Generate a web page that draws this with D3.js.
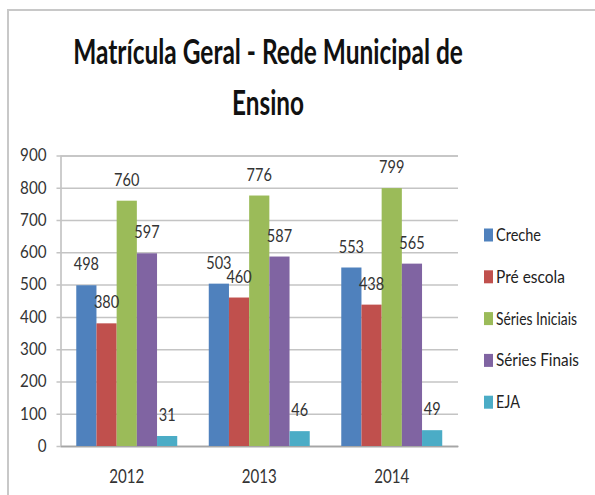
<!DOCTYPE html>
<html>
<head>
<meta charset="utf-8">
<script src="https://cdn.jsdelivr.net/npm/d3@7/dist/d3.min.js"></script>
<style>
html,body{margin:0;padding:0;background:#fff;}
svg{display:block;}
text{font-family:Lato,"Open Sans","DejaVu Sans",sans-serif;}
</style>
</head>
<body>
<svg id="chart" width="595" height="495"></svg>
<script>
const years = ["2012", "2013", "2014"];
const seriesNames = ["Creche", "Pré escola", "Séries Iniciais", "Séries Finais", "EJA"];
const creche = [498, 503, 553];
const preEscola = [380, 460, 438];
const seriesIniciais = [760, 776, 799];
const seriesFinais = [597, 587, 565];
const eja = [31, 46, 49];
const yTicks = [0, 100, 200, 300, 400, 500, 600, 700, 800, 900];
const colors = ["#4F81BD", "#C0504D", "#9BBB59", "#8064A2", "#4BACC6"];
const titleLines = ["Matrícula Geral - Rede Municipal de", "Ensino"];

const values = [creche, preEscola, seriesIniciais, seriesFinais, eja];
const data = years.map((yr, i) => ({year: yr, vals: seriesNames.map((s, j) => ({name: s, value: values[j][i], idx: j}))}));

const svg = d3.select("#chart");

// outer frame
svg.append("rect").attr("x", 8).attr("y", 10).attr("width", 600).attr("height", 500)
  .attr("fill", "#fff").attr("stroke", "#c8c8c8").attr("stroke-width", 2);

// title (horizontally condensed via scale)
const titleW = [390, 72];
titleLines.forEach((line, i) => {
  const g = svg.append("g").attr("class", "title");
  const t = g.append("text").attr("x", 0).attr("y", 0)
    .attr("text-anchor", "middle")
    .attr("font-size", 35).attr("font-weight", "bold").attr("fill", "#111")
    .text(line);
  const w = t.node().getComputedTextLength();
  g.attr("transform", `translate(268,${64 + i * 51}) scale(${titleW[i] / w},1)`);
});

const plotL = 60.5, plotR = 458, plotT = 155.5, plotB = 446;
const x = d3.scaleBand().domain(years).range([plotL, plotR]).paddingInner(0.238).paddingOuter(0.119);
const xs = d3.scaleBand().domain(seriesNames).range([0, x.bandwidth()]);
const y = d3.scaleLinear().domain([0, 900]).range([plotB, plotT]);

// gridlines + y axis
const yAxis = d3.axisLeft(y).tickValues(yTicks).tickSize(-(plotR - plotL)).tickPadding(14).tickFormat(d3.format("d"));
const gy = svg.append("g").attr("transform", `translate(${plotL},0)`).call(yAxis);
gy.select(".domain").attr("stroke", "#bdbdbd").attr("stroke-width", 1.5);
gy.selectAll(".tick line").attr("stroke", "#c4c4c4").attr("stroke-width", 1.5).attr("x1", -4);
gy.selectAll(".tick text").attr("font-size", 16.5).attr("fill", "#333")
  .attr("font-family", "Lato,sans-serif")
  .each(function(){ const w = this.getComputedTextLength(); d3.select(this).attr("textLength", w * 0.92).attr("lengthAdjust", "spacingAndGlyphs"); });

// x axis
const xAxis = d3.axisBottom(x).tickSize(0).tickPadding(24);
const gx = svg.append("g").attr("transform", `translate(0,${plotB})`).call(xAxis);
gx.select(".domain").attr("stroke", "#a6a6a6").attr("stroke-width", 1.5);
gx.selectAll(".tick text").attr("font-size", 19).attr("fill", "#333")
  .attr("font-family", "Lato,sans-serif")
  .attr("textLength", 35).attr("lengthAdjust", "spacingAndGlyphs");

// bars
const groups = svg.selectAll(".grp").data(data).enter().append("g")
  .attr("transform", d => `translate(${x(d.year)},0)`);
groups.selectAll("rect").data(d => d.vals).enter().append("rect")
  .attr("x", d => xs(d.name)).attr("width", xs.bandwidth())
  .attr("y", d => y(d.value)).attr("height", d => plotB - y(d.value))
  .attr("fill", d => colors[d.idx]);
groups.selectAll(".lbl").data(d => d.vals).enter().append("text")
  .attr("class", "lbl")
  .attr("x", d => xs(d.name) + xs.bandwidth() / 2)
  .attr("y", d => y(d.value) - 15)
  .attr("text-anchor", "middle").attr("font-size", 16.5).attr("fill", "#333")
  .text(d => d.value)
  .each(function(){ const w = this.getComputedTextLength(); d3.select(this).attr("textLength", w * 0.88).attr("lengthAdjust", "spacingAndGlyphs"); });

// legend
const legW = [45, 69, 81, 83, 24];
const leg = svg.selectAll(".leg").data(seriesNames).enter().append("g")
  .attr("transform", (d, i) => `translate(484,${235 + i * 41.8})`);
leg.append("rect").attr("x", 0).attr("y", -6.5).attr("width", 9).attr("height", 13)
  .attr("fill", (d, i) => colors[i]);
leg.append("text").attr("x", 12).attr("y", 6).attr("font-size", 17).attr("fill", "#222")
  .attr("textLength", (d, i) => legW[i]).attr("lengthAdjust", "spacingAndGlyphs")
  .text(d => d);
</script>
</body>
</html>
